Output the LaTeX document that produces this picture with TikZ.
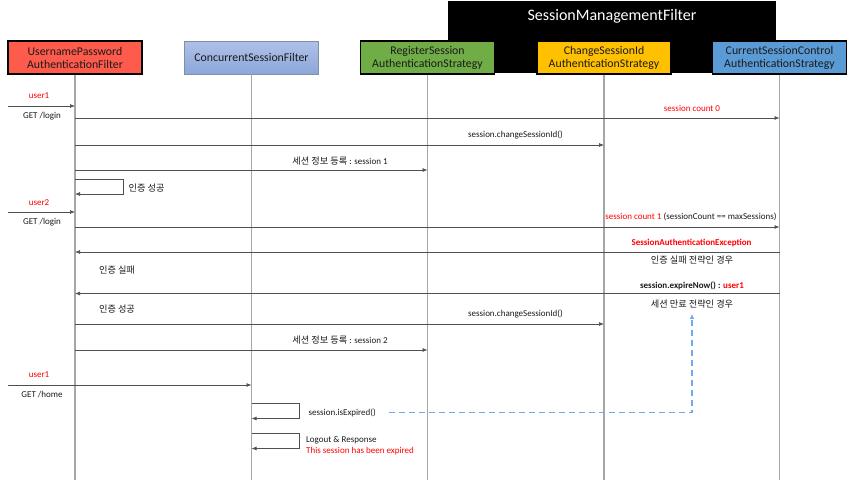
\documentclass[tikz,border=0pt]{standalone}
\usepackage{fontspec}
\setmainfont{Carlito}
\newfontfamily\kr{Noto Sans CJK KR}
\usetikzlibrary{arrows.meta}
\definecolor{upred}{HTML}{FF5B4D}
\definecolor{csblueA}{HTML}{AFC1E8}
\definecolor{csblueB}{HTML}{8CA7DA}
\definecolor{csborder}{HTML}{7F8FA8}
\definecolor{rsgreen}{HTML}{70AD47}
\definecolor{csyellow}{HTML}{FFC000}
\definecolor{ccblue}{HTML}{5B9BD5}
\definecolor{msgc}{HTML}{505050}
\definecolor{lifec}{HTML}{A6A6A6}
\definecolor{txtred}{HTML}{FF0000}
\definecolor{dashblue}{HTML}{6FAAF0}
\definecolor{txtc}{HTML}{1A1A1A}
\newcommand{\krs}{\kr\fontsize{9.2}{11}\selectfont}
\begin{document}
\begin{tikzpicture}[x=1pt,y=-1pt,
  head/.style={draw, line width=1.1pt, minimum width=134, minimum height=33, align=center,
    font=\fontsize{11.8}{13}\selectfont, inner sep=1pt, text=txtc},
  msg/.style={draw=msgc, line width=0.7pt, -{Latex[length=5pt,width=4pt]}},
  life/.style={draw=lifec, line width=1.2pt},
  lbl/.style={font=\fontsize{9}{10.5}\selectfont, inner sep=0.5pt, text=txtc},
  krl/.style={font=\krs, inner sep=0.5pt, text=txtc},
  redl/.style={lbl, text=txtred},
  dashline/.style={draw=dashblue, line width=1.3pt, dash pattern=on 6pt off 4pt, -{Latex[length=5pt,width=4.5pt]}}
]
\useasboundingbox (0,0) rectangle (848,482);

% SessionManagementFilter background
\node (smf) [fill=black, minimum width=328, minimum height=72, inner sep=0] at (612,37) {};
\node (smft) [text=white, font=\fontsize{16}{18}\selectfont] at (612,16) {SessionManagementFilter};

% heads
\node (up) [head, fill=upred] at (75,57.5) {UsernamePassword\\AuthenticationFilter};
\node (cs) [head, draw=csborder, line width=0.8pt, top color=csblueA, bottom color=csblueB] at (251.5,57.5) {ConcurrentSessionFilter};
\node (rs) [head, fill=rsgreen] at (427.5,57.5) {RegisterSession\\AuthenticationStrategy};
\node (ch) [head, fill=csyellow] at (604,57.5) {ChangeSessionId\\AuthenticationStrategy};
\node (cc) [head, fill=ccblue] at (779.5,57.5) {CurrentSessionControl\\AuthenticationStrategy};

% lifelines
\draw[life] (up.south) -- (up |- 0,480);
\draw[life] (cs.south) -- (cs |- 0,480);
\draw[life] (rs.south) -- (rs |- 0,480);
\draw[life] (ch.south) -- (ch |- 0,480);
\draw[life] (cc.south) -- (cc |- 0,480);

% user1 login
\coordinate (in1) at (8,106);
\node[redl] (u1) at (39,96) {user1};
\draw[msg] (in1) -- (up |- in1);
\node[lbl] (g1) at (42,116) {GET /login};

\draw[msg] (up |- 0,118) -- (cc |- 0,118);
\node[redl] (sc0) at (692,108) {session count 0};

\draw[msg] (up |- 0,145) -- (ch |- 0,145);
\node[lbl] (chg1) at (515.5,135) {session.changeSessionId()};

\draw[msg] (up |- 0,170) -- (rs |- 0,170);
\node[lbl] (reg1) at (340,161) {{\krs 세션 정보 등록} : session 1};

\draw[msg] (up |- 0,179) -- (123,179) -- (123,194) -- (up |- 0,194);
\node[krl, anchor=west] (ok1) at (128,188) {인증 성공};

% user2 login
\coordinate (in2) at (8,212);
\node[redl] (u2) at (39,203) {user2};
\draw[msg] (in2) -- (up |- in2);
\node[lbl] (g2) at (42,222) {GET /login};

\draw[msg] (up |- 0,227) -- (cc |- 0,227);
\node[lbl] (sc1) at (691,217) {\textcolor{txtred}{session count 1} (sessionCount == maxSessions)};
\node[redl, font=\bfseries\fontsize{9}{10.5}\selectfont] (sae) at (691.5,243) {SessionAuthenticationException};

\draw[msg] (cc |- 0,252) -- (up |- 0,252);
\node[krl] (fail) at (117,270) {인증 실패};
\node[krl] (failst) at (692,260) {인증 실패 전략인 경우};

\node[lbl, font=\bfseries\fontsize{9}{10.5}\selectfont] (expn) at (692,286) {session.expireNow() : \textcolor{txtred}{user1}};
\draw[msg] (cc |- 0,293.5) -- (up |- 0,293.5);
\node[krl] (ok2) at (117,309) {인증 성공};
\node[krl] (expst) at (692,304) {세션 만료 전략인 경우};

\draw[msg] (up |- 0,324) -- (ch |- 0,324);
\node[lbl] (chg2) at (515.5,313.5) {session.changeSessionId()};

\draw[msg] (up |- 0,350) -- (rs |- 0,350);
\node[lbl] (reg2) at (340,340) {{\krs 세션 정보 등록} : session 2};

% user1 home
\coordinate (in3) at (8,385);
\node[redl] (u3) at (39,375) {user1};
\draw[msg] (in3) -- (cs |- in3);
\node[lbl] (g3) at (42,395) {GET /home};

\draw[msg] (cs |- 0,403) -- (299,403) -- (299,418.5) -- (cs |- 0,418.5);
\node[lbl, anchor=west] (isexp) at (308,412.5) {session.isExpired()};

\draw[msg] (cs |- 0,433) -- (299,433) -- (299,448.5) -- (cs |- 0,448.5);
\node[lbl, anchor=west] (lo) at (305.5,440) {Logout \& Response};
\node[redl, anchor=west] (exptxt) at (305.5,451) {This session has been expired};

\draw[dashline, shorten <=12pt, shorten >=5pt] (isexp.east) -| (expst.south);
\end{tikzpicture}
\end{document}
